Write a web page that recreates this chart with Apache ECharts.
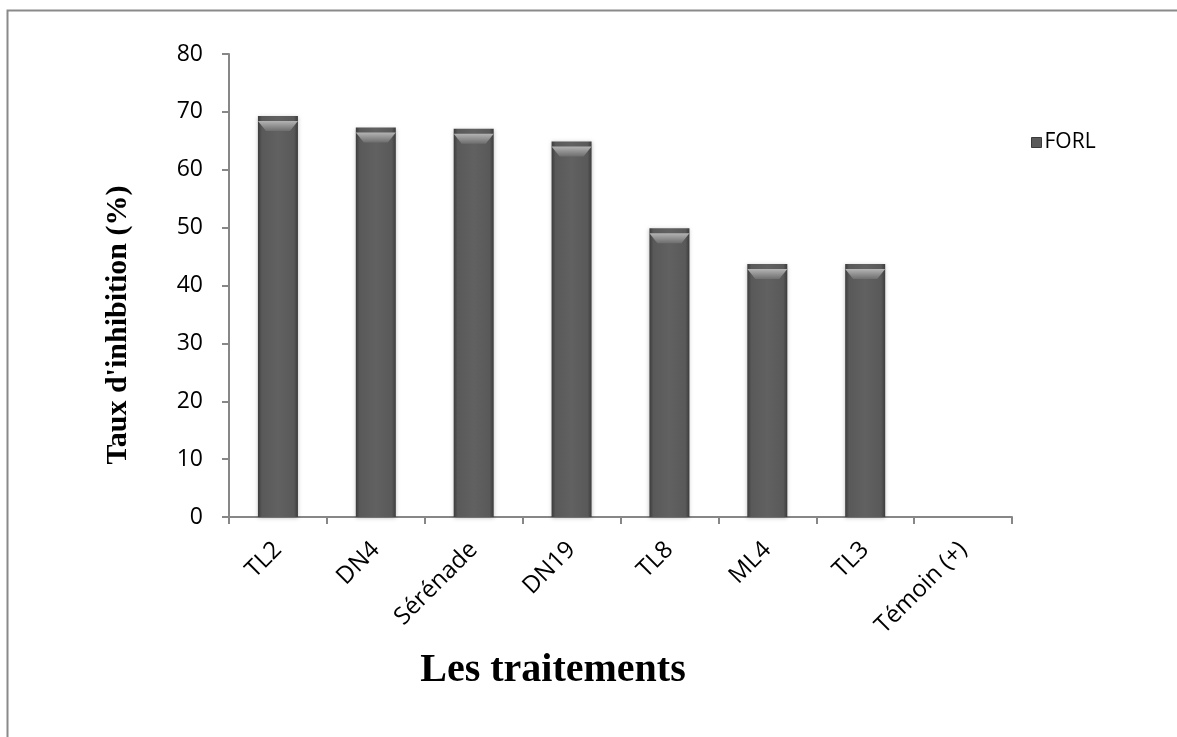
<!DOCTYPE html>
<html>
<head>
<meta charset="utf-8">
<script src="https://cdn.jsdelivr.net/npm/echarts@6/dist/echarts.min.js"></script>
<style>
  html, body { margin: 0; padding: 0; background: #ffffff; }
  #chart { width: 1177px; height: 737px; }
</style>
</head>
<body>
<div id="chart"></div>
<script>
// Inhibition rate (%) per treatment against FORL
const categories = ['TL2', 'DN4', 'Sérénade', 'DN19', 'TL8', 'ML4', 'TL3', 'Témoin (+)'];
const forlValues = [69.3, 67.3, 67.1, 64.9, 49.9, 43.7, 43.7, 0];
const yTicks = [0, 10, 20, 30, 40, 50, 60, 70, 80];

const seriesName = 'FORL';
const yTitle = "Taux d'inhibition (%)";
const xTitle = 'Les traitements';
const axisGrey = '#878787';
const labelFont = 'Open Sans, Liberation Sans, sans-serif';
const titleFont = 'Liberation Serif, Times New Roman, serif';

const chart = echarts.init(document.getElementById('chart'), null, { renderer: 'canvas' });

// Bars: dark grey body with darker side edges
const bodyGradient = new echarts.graphic.LinearGradient(0, 0, 1, 0, [
  { offset: 0, color: '#3c3c3c' },
  { offset: 0.1, color: '#595959' },
  { offset: 0.5, color: '#616161' },
  { offset: 0.9, color: '#595959' },
  { offset: 1, color: '#3c3c3c' }
]);
// Bevelled cap on top of each bar
const capGradient = new echarts.graphic.LinearGradient(0, 0, 0, 1, [
  { offset: 0, color: '#b4b4b4' },
  { offset: 1, color: '#6e6e6e' }
]);

chart.setOption({
  animation: false,
  backgroundColor: '#ffffff',
  grid: { left: 229, right: 165, top: 54, bottom: 220, containLabel: false },
  legend: {
    data: [seriesName],
    left: 1026,
    top: 127,
    itemWidth: 10,
    itemHeight: 10,
    itemGap: 4,
    icon: 'rect',
    textStyle: { fontFamily: labelFont, fontSize: 21, color: '#000000', padding: [0, 0, 0, -2] },
    itemStyle: { color: '#5a5a5a', borderColor: '#3a3a3a', borderWidth: 1 }
  },
  xAxis: {
    type: 'category',
    data: categories,
    boundaryGap: true,
    axisLine: { show: true, lineStyle: { color: axisGrey, width: 2 } },
    axisTick: { show: true, alignWithLabel: false, length: 7, inside: false, lineStyle: { color: axisGrey, width: 2 } },
    axisLabel: {
      rotate: 45,
      interval: 0,
      margin: 29,
      fontFamily: labelFont,
      fontSize: 24,
      color: '#000000'
    },
    splitLine: { show: false }
  },
  yAxis: {
    type: 'value',
    min: yTicks[0],
    max: yTicks[yTicks.length - 1],
    interval: yTicks[1] - yTicks[0],
    axisLine: { show: true, lineStyle: { color: axisGrey, width: 2 } },
    axisTick: { show: true, length: 7, inside: false, lineStyle: { color: axisGrey, width: 2 } },
    axisLabel: { margin: 26, fontFamily: labelFont, fontSize: 23, color: '#000000' },
    splitLine: { show: false }
  },
  series: [
    {
      name: seriesName,
      type: 'bar',
      barWidth: 40,
      data: forlValues,
      itemStyle: {
        color: bodyGradient,
        shadowColor: 'rgba(0,0,0,0.25)',
        shadowBlur: 4,
        shadowOffsetY: 1
      },
      z: 2
    },
    {
      name: 'cap',
      type: 'pictorialBar',
      legendHoverLink: false,
      silent: true,
      symbol: 'path://M0,0 L40,0 L32,10 L8,10 Z',
      symbolSize: [40, 10],
      symbolPosition: 'end',
      symbolOffset: [0, '50%'],
      data: forlValues.map(v => (v > 0 ? v : '-')),
      itemStyle: { color: capGradient },
      z: 3
    }
  ],
  graphic: [
    {
      type: 'polyline',
      shape: { points: [[7.5, 737], [7.5, 10.5], [1177, 10.5]] },
      style: { stroke: '#8a8a8a', lineWidth: 2, fill: null },
      silent: true
    },
    {
      type: 'text',
      x: 118,
      y: 325,
      rotation: Math.PI / 2,
      style: {
        text: yTitle,
        font: 'bold 30px ' + titleFont,
        fill: '#000000',
        align: 'center',
        verticalAlign: 'middle'
      },
      silent: true
    },
    {
      type: 'text',
      x: 553,
      y: 671,
      style: {
        text: xTitle,
        font: 'bold 40px ' + titleFont,
        fill: '#000000',
        align: 'center',
        verticalAlign: 'middle'
      },
      silent: true
    }
  ]
});
</script>
</body>
</html>
